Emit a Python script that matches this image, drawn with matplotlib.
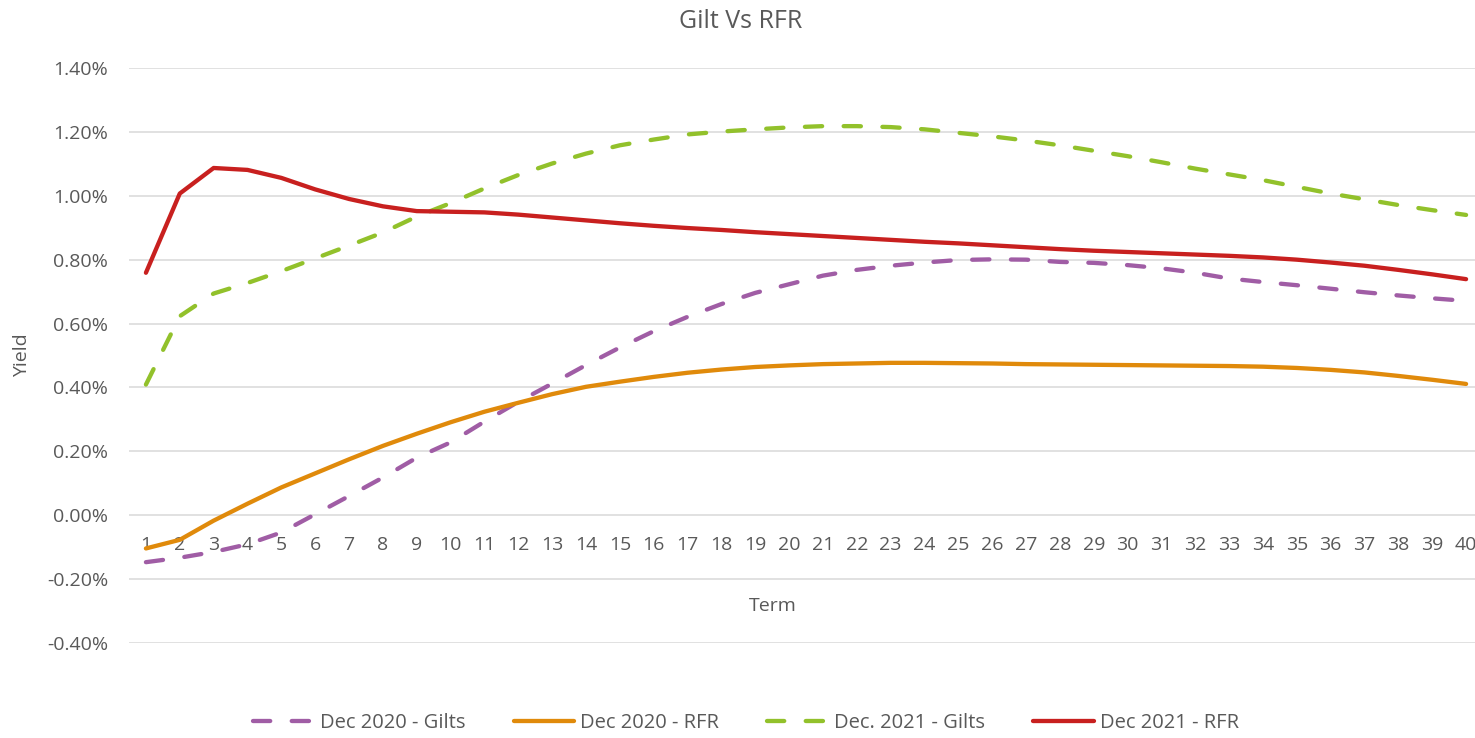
import matplotlib
matplotlib.use("Agg")
import matplotlib.pyplot as plt
from matplotlib.ticker import FuncFormatter, MultipleLocator

# yields in percent
term = list(range(1, 41))

gilts_2020 = [-0.147, -0.133, -0.115, -0.091, -0.054, 0.003, 0.060, 0.118, 0.180, 0.228,
              0.293, 0.355, 0.412, 0.470, 0.525, 0.576, 0.621, 0.661, 0.696, 0.723,
              0.750, 0.768, 0.781, 0.791, 0.799, 0.801, 0.800, 0.793, 0.790, 0.783,
              0.773, 0.759, 0.741, 0.730, 0.720, 0.709, 0.698, 0.688, 0.679, 0.671]

rfr_2020 = [-0.104, -0.077, -0.017, 0.036, 0.087, 0.131, 0.175, 0.217, 0.255, 0.291,
            0.324, 0.352, 0.379, 0.402, 0.418, 0.433, 0.446, 0.456, 0.464, 0.469,
            0.473, 0.475, 0.477, 0.477, 0.476, 0.475, 0.473, 0.472, 0.471, 0.470,
            0.469, 0.468, 0.467, 0.465, 0.461, 0.455, 0.447, 0.436, 0.424, 0.411]

gilts_2021 = [0.409, 0.623, 0.694, 0.727, 0.764, 0.804, 0.844, 0.885, 0.935, 0.977,
              1.023, 1.065, 1.101, 1.132, 1.158, 1.176, 1.192, 1.201, 1.208, 1.214,
              1.218, 1.218, 1.215, 1.208, 1.197, 1.186, 1.173, 1.158, 1.141, 1.124,
              1.105, 1.085, 1.067, 1.049, 1.028, 1.007, 0.989, 0.971, 0.955, 0.940]

rfr_2021 = [0.759, 1.007, 1.087, 1.081, 1.056, 1.020, 0.990, 0.967, 0.952, 0.950,
            0.948, 0.941, 0.932, 0.923, 0.914, 0.906, 0.899, 0.893, 0.886, 0.880,
            0.874, 0.868, 0.862, 0.856, 0.851, 0.845, 0.839, 0.833, 0.828, 0.824,
            0.820, 0.816, 0.812, 0.807, 0.800, 0.791, 0.781, 0.768, 0.754, 0.739]

series_names = ["Dec 2020 - Gilts", "Dec 2020 - RFR", "Dec. 2021 - Gilts", "Dec 2021 - RFR"]

plt.rcParams['font.family'] = ['Open Sans', 'DejaVu Sans']
txt = '#595959'

fig = plt.figure(figsize=(14.75, 7.38), dpi=100)
ax = fig.add_axes([129 / 1475, 1 - 643 / 738, 1354 / 1475, 575 / 738])

lw = 3.1
dash = (4.0, 5.0)
ax.plot(term, gilts_2020, color='#A05DA5', lw=lw, dashes=dash, dash_capstyle='round',
        label=series_names[0])
ax.plot(term, rfr_2020, color='#E08A0B', lw=lw, solid_capstyle='round', label=series_names[1])
ax.plot(term, gilts_2021, color='#92C12B', lw=lw, dashes=dash, dash_capstyle='round',
        label=series_names[2])
ax.plot(term, rfr_2021, color='#C8201F', lw=lw, solid_capstyle='round', label=series_names[3])

ax.set_xlim(0.5, 40.5)
ax.set_ylim(-0.4, 1.4)
ax.yaxis.set_major_locator(MultipleLocator(0.2))
ax.yaxis.set_major_formatter(FuncFormatter(lambda v, p: f"{v:.2f}%"))
ax.set_xticks(term)
ax.grid(axis='y', color='#D9D9D9', lw=1.1)
ax.set_axisbelow(True)
for s in ['top', 'right', 'left']:
    ax.spines[s].set_visible(False)
ax.spines['bottom'].set_position(('data', 0))
ax.spines['bottom'].set_visible(False)
ax.tick_params(axis='x', length=0, pad=15, labelsize=14, labelcolor=txt)
ax.tick_params(axis='y', length=0, pad=15, labelsize=14, labelcolor=txt)

fig.text(741 / 1475, 1 - 22 / 738, "Gilt Vs RFR", ha='center', va='center', fontsize=18, color=txt)
fig.text(773 / 1475, 1 - 606 / 738, "Term", ha='center', va='center', fontsize=14, color=txt)
fig.text(22 / 1475, 1 - 355 / 738, "Yield", ha='center', va='center', rotation=90,
         fontsize=14, color=txt)

leg = fig.legend(loc='center', bbox_to_anchor=(746 / 1475, 1 - 723 / 738), ncol=4,
                 frameon=False, fontsize=14.5, handlelength=3.0, handletextpad=0.3,
                 columnspacing=2.4, labelcolor=txt)

fig.savefig("out.png", dpi=100)
